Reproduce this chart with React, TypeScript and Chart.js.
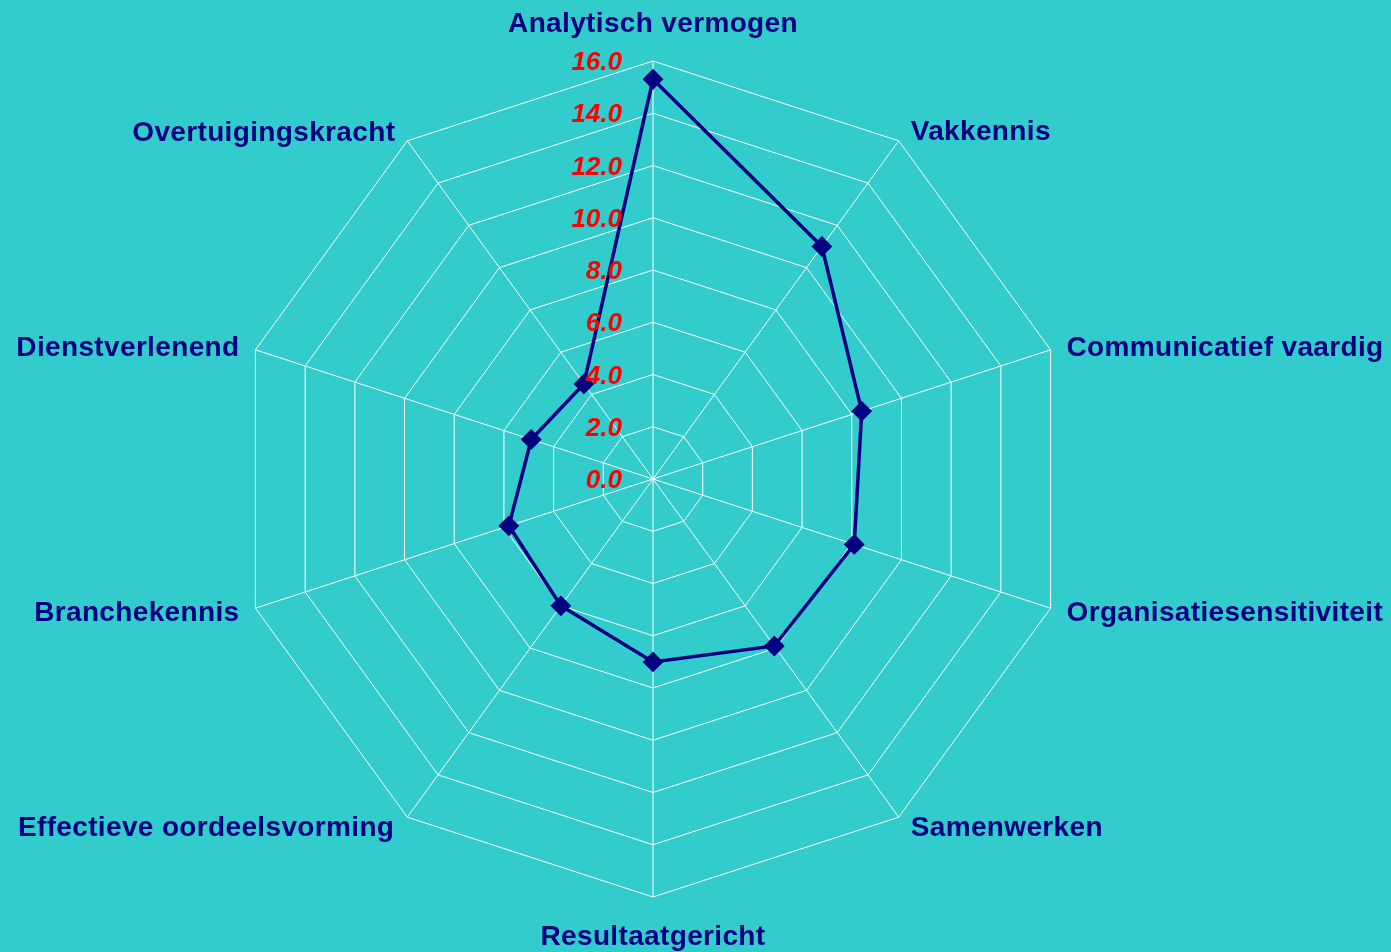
import React, { useEffect, useRef } from "react";
import { Chart, registerables } from "chart.js";

Chart.register(...registerables);

const categories = [
  "Analytisch vermogen",
  "Vakkennis",
  "Communicatief vaardig",
  "Organisatiesensitiviteit",
  "Samenwerken",
  "Resultaatgericht",
  "Effectieve oordeelsvorming",
  "Branchekennis",
  "Dienstverlenend",
  "Overtuigingskracht",
];

const scores = [15.3, 11.0, 8.4, 8.1, 7.9, 7.0, 6.0, 5.8, 4.9, 4.5];

const tickValues = [0, 2, 4, 6, 8, 10, 12, 14, 16];
const tickLabels = ["0.0", "2.0", "4.0", "6.0", "8.0", "10.0", "12.0", "14.0", "16.0"];

// label placement relative to each outer vertex (style only)
const LABEL_PLACEMENT: { align: CanvasTextAlign; dx: number; dy: number }[] = [
  { align: "center", dx: 0, dy: -29 },
  { align: "left", dx: 12, dy: -1 },
  { align: "left", dx: 16, dy: 6 },
  { align: "left", dx: 16, dy: 13 },
  { align: "left", dx: 12, dy: 19 },
  { align: "center", dx: 0, dy: 48 },
  { align: "right", dx: -13, dy: 19 },
  { align: "right", dx: -16, dy: 13 },
  { align: "right", dx: -16, dy: 6 },
  { align: "right", dx: -12, dy: 0 },
];

const FONT_FAMILY = '"Liberation Sans", Arial, Helvetica, sans-serif';

const labelPlugin = {
  id: "customRadarLabels",
  afterDraw(chart: any) {
    const scale = chart.scales.r;
    const ctx: any = chart.ctx;
    ctx.save();
    ctx.font = `bold 28px ${FONT_FAMILY}`;
    ctx.fillStyle = "#000080";
    ctx.textBaseline = "alphabetic";
    if ("letterSpacing" in ctx) ctx.letterSpacing = "0.35px";
    categories.forEach((c, i) => {
      const p = scale.getPointPosition(i, scale.drawingArea);
      const pl = LABEL_PLACEMENT[i];
      ctx.textAlign = pl.align;
      ctx.fillText(c, p.x + pl.dx, p.y + pl.dy);
    });
    if ("letterSpacing" in ctx) ctx.letterSpacing = "0px";
    ctx.font = `italic bold 26px ${FONT_FAMILY}`;
    ctx.fillStyle = "#FF0000";
    ctx.textAlign = "right";
    ctx.textBaseline = "middle";
    tickValues.forEach((v, i) => {
      const d = scale.getDistanceFromCenterForValue(v);
      ctx.fillText(tickLabels[i], scale.xCenter - 31, scale.yCenter - d + 2);
    });
    ctx.restore();
  },
};

export default function App() {
  const ref = useRef<HTMLCanvasElement>(null);

  useEffect(() => {
    document.body.style.margin = "0";
    const canvas = ref.current;
    if (!canvas) return;
    const chart = new Chart(canvas, {
      type: "radar",
      data: {
        labels: categories,
        datasets: [
          {
            label: "Score",
            data: scores,
            borderColor: "#000080",
            borderWidth: 3.5,
            backgroundColor: "#000080",
            fill: false,
            pointStyle: "rectRot",
            pointRadius: 9,
            pointBorderWidth: 2,
            pointBackgroundColor: "#000080",
            pointBorderColor: "#000080",
            tension: 0,
          },
        ],
      },
      options: {
        animation: false,
        responsive: false,
        devicePixelRatio: 1,
        layout: { padding: { left: 0, right: 85, top: 61, bottom: 55 } },
        plugins: {
          legend: { display: false },
          tooltip: { enabled: false },
        },
        scales: {
          r: {
            min: 0,
            max: 16,
            beginAtZero: true,
            ticks: { display: false, stepSize: 2 },
            grid: { color: "#FFFFFF", lineWidth: 1, circular: false },
            angleLines: { display: true, color: "#FFFFFF", lineWidth: 1 },
            pointLabels: { display: false },
          },
        },
      },
      plugins: [labelPlugin],
    });
    return () => chart.destroy();
  }, []);

  return (
    <div
      style={{
        position: "fixed",
        left: 0,
        top: 0,
        width: 1391,
        height: 952,
        background: "#33CCCC",
      }}
    >
      <canvas
        ref={ref}
        width={1391}
        height={952}
        style={{ display: "block", width: 1391, height: 952 }}
      />
    </div>
  );
}
